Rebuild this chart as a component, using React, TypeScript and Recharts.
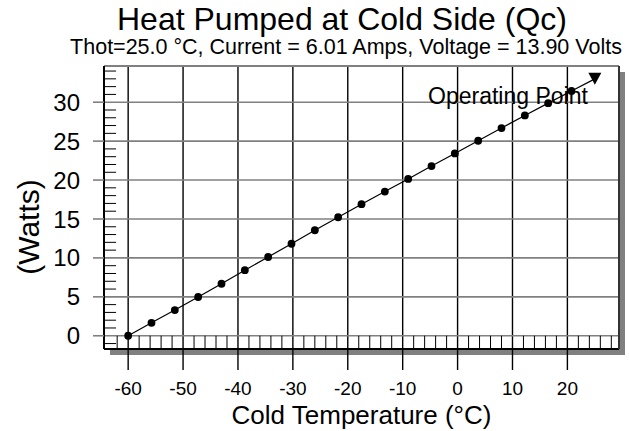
import React from 'react';
import {
  ComposedChart,
  Line,
  XAxis,
  YAxis,
  CartesianGrid,
  ReferenceArea,
  ReferenceLine,
  Label,
} from 'recharts';

// Cold side temperature (°C) and heat pumped (W); last point is the operating point
const coldTemps = [
  -60, -55.75, -51.5, -47.25, -43, -38.75, -34.5, -30.25, -26, -21.75, -17.5,
  -13.25, -9, -4.75, -0.5, 3.75, 8, 12.25, 16.5, 20.75, 25,
];
const heatWatts = [
  0, 1.66, 3.3, 4.98, 6.68, 8.42, 10.12, 11.82, 13.55, 15.22, 16.9, 18.52,
  20.14, 21.8, 23.42, 25.05, 26.68, 28.3, 29.88, 31.45, 33.0,
];

const xTicks = [-60, -50, -40, -30, -20, -10, 0, 10, 20];
const xMinorTicks = [
  -62, -58, -56, -54, -52, -48, -46, -44, -42, -38, -36, -34, -32, -28, -26, -24,
  -22, -18, -16, -14, -12, -8, -6, -4, -2, 2, 4, 6, 8, 12, 14, 16, 18, 22, 24, 26, 28,
];
const yTicks = [0, 5, 10, 15, 20, 25, 30];
const yMinorTicks = [
  -1, 1, 2, 3, 4, 6, 7, 8, 9, 11, 12, 13, 14, 16, 17, 18, 19, 21, 22, 23, 24, 26,
  27, 28, 29, 31, 32, 33, 34,
];

const xDomain = [-64.4, 29.4];
const yDomain = [-1.7, 34.65];
// inner end of the small y ticks, in °C
const yMinorEnd = -62.2;

const data = coldTemps.map((t, i) => ({ t, q: heatWatts[i] }));
const FONT = '"Liberation Sans", Arial, sans-serif';

const PointDot = (props: any) => {
  const { cx, cy, index } = props;
  if (index === data.length - 1) {
    return (
      <g key={`op-${index}`}>
        <path d={`M${cx - 6.5},${cy - 6} L${cx + 6.5},${cy - 6} L${cx},${cy + 6} Z`} fill="#000" />
        <text x={cx - 7} y={cy + 25} textAnchor="end" fontSize={23} fill="#000">
          Operating Point
        </text>
      </g>
    );
  }
  return <circle key={`d-${index}`} cx={cx} cy={cy} r={3.9} fill="#000" />;
};

const Shadow = (props: any) => {
  const { x, y, width, height } = props;
  const s = 6;
  const d = `M${x + width},${y + s} L${x + width + s},${y + s} L${x + width + s},${y + height + s} L${x + s},${y + height + s} L${x + s},${y + height} L${x + width},${y + height} Z`;
  return <path d={d} fill="#808080" />;
};

export default function App() {
  return (
    <div style={{ position: 'absolute', left: 0, top: 0, fontFamily: FONT, background: '#fff' }}>
      <ComposedChart width={629} height={431} data={data} margin={{ top: 66, right: 10, bottom: 0, left: 0 }}>
        <text x={342} y={30} textAnchor="middle" fontSize={32} fill="#000">
          Heat Pumped at Cold Side (Qc)
        </text>
        <text x={346} y={54} textAnchor="middle" fontSize={21.5} fill="#000">
          Thot=25.0 °C, Current = 6.01 Amps, Voltage = 13.90 Volts
        </text>
        <text x={28} y={227} textAnchor="middle" fontSize={30} fill="#000" transform="rotate(-90 28 227)" dominantBaseline="central">
          (Watts)
        </text>

        <ReferenceArea
          x1={xDomain[0]}
          x2={xDomain[1]}
          y1={yDomain[0]}
          y2={yDomain[1]}
          ifOverflow="visible"
          shape={<Shadow />}
        />

        <CartesianGrid horizontal={false} stroke="#000" strokeWidth={1.4} />
        <CartesianGrid vertical={false} stroke="#808080" strokeWidth={1.6} />

        {xMinorTicks.map((v) => (
          <ReferenceLine
            key={`xm${v}`}
            segment={[{ x: v, y: yDomain[0] }, { x: v, y: 0 }]}
            stroke="#000"
            strokeWidth={1}
            ifOverflow="visible"
          />
        ))}
        {yMinorTicks.map((v) => (
          <ReferenceLine
            key={`ym${v}`}
            segment={[{ x: xDomain[0], y: v }, { x: yMinorEnd, y: v }]}
            stroke="#000"
            strokeWidth={1}
            ifOverflow="visible"
          />
        ))}

        <XAxis
          dataKey="t"
          type="number"
          domain={xDomain}
          allowDataOverflow
          ticks={xTicks}
          interval={0}
          height={82}
          tickSize={21}
          tickMargin={12}
          axisLine={{ stroke: '#000', strokeWidth: 2 }}
          tickLine={{ stroke: '#000', strokeWidth: 1.4 }}
          tick={{ fill: '#000', fontSize: 19 }}
        >
          <Label value="Cold Temperature (°C)" position="insideBottom" offset={7} fontSize={26} fill="#000" />
        </XAxis>
        <XAxis
          xAxisId="top"
          orientation="top"
          type="number"
          domain={xDomain}
          allowDataOverflow
          mirror
          tick={false}
          tickLine={false}
          axisLine={{ stroke: '#808080', strokeWidth: 2 }}
        />

        <YAxis
          type="number"
          domain={yDomain}
          allowDataOverflow
          ticks={yTicks}
          interval={0}
          width={104}
          tickSize={11}
          tickMargin={13}
          axisLine={{ stroke: '#000', strokeWidth: 2 }}
          tickLine={{ stroke: '#808080', strokeWidth: 1.6 }}
          tick={{ fill: '#000', fontSize: 24 }}
        />
        <YAxis
          yAxisId="right"
          orientation="right"
          type="number"
          domain={yDomain}
          allowDataOverflow
          mirror
          tick={false}
          tickLine={false}
          axisLine={{ stroke: '#333', strokeWidth: 2 }}
        />

        <Line
          dataKey="q"
          type="linear"
          stroke="#000"
          strokeWidth={1.2}
          dot={<PointDot />}
          activeDot={false}
          isAnimationActive={false}
        />
      </ComposedChart>
    </div>
  );
}
